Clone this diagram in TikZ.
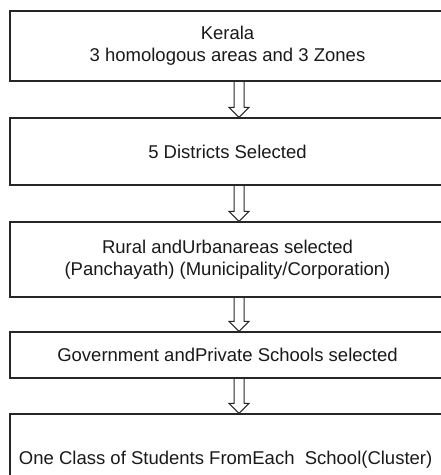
\documentclass[tikz,border=0pt]{standalone}
\usepackage{fontspec}
\setmainfont{Liberation Sans}
\usetikzlibrary{calc}
\usepackage[svgnames]{xcolor}
\tikzset{
  box/.style={draw=black!85, line width=1.3pt, minimum width=435pt, inner sep=0pt,
    align=center, text=black!90, font=\fontsize{18.5}{21.7}\selectfont},
  arrowline/.style={draw=black!85, line width=1pt, line join=miter}
}
\newcommand{\flowarrow}[2]{%
  \draw[arrowline] ($(#1.south)+(6.5,0)$) -- ($(#2.north)+(6.5,10)$) -- ($(#2.north)+(1.5,10)$)
    -- ($(#2.north)+(11.5,0)$) -- ($(#2.north)+(21.5,10)$) -- ($(#2.north)+(16.5,10)$)
    -- ($(#1.south)+(16.5,0)$);}

\begin{document}
\begin{tikzpicture}[x=1pt,y=1pt]
  \useasboundingbox (0,0) rectangle (441,475);

  % 方框
  \node [box, minimum height=70pt] (kerala) at (227.5,429) {Kerala\\3 homologous areas and 3 Zones};
  \node [box, minimum height=67pt] (district) at (227.5,323.5) {5 Districts Selected};
  \node [box, minimum height=75pt] (area) at (227.5,215.5) {Rural andUrbanareas selected\\(Panchayath) (Municipality/Corporation)};
  \node [box, minimum height=46pt] (school) at (227.5,120) {Government andPrivate Schools selected};
  \node [box, minimum height=92pt] (class) at (227.5,15) {\makebox[417pt][l]{One Class of Students FromEach\ \ School(Cluster)}};

  % 箭头
  \flowarrow{kerala}{district}
  \flowarrow{district}{area}
  \flowarrow{area}{school}
  \flowarrow{school}{class}
\end{tikzpicture}
\end{document}
